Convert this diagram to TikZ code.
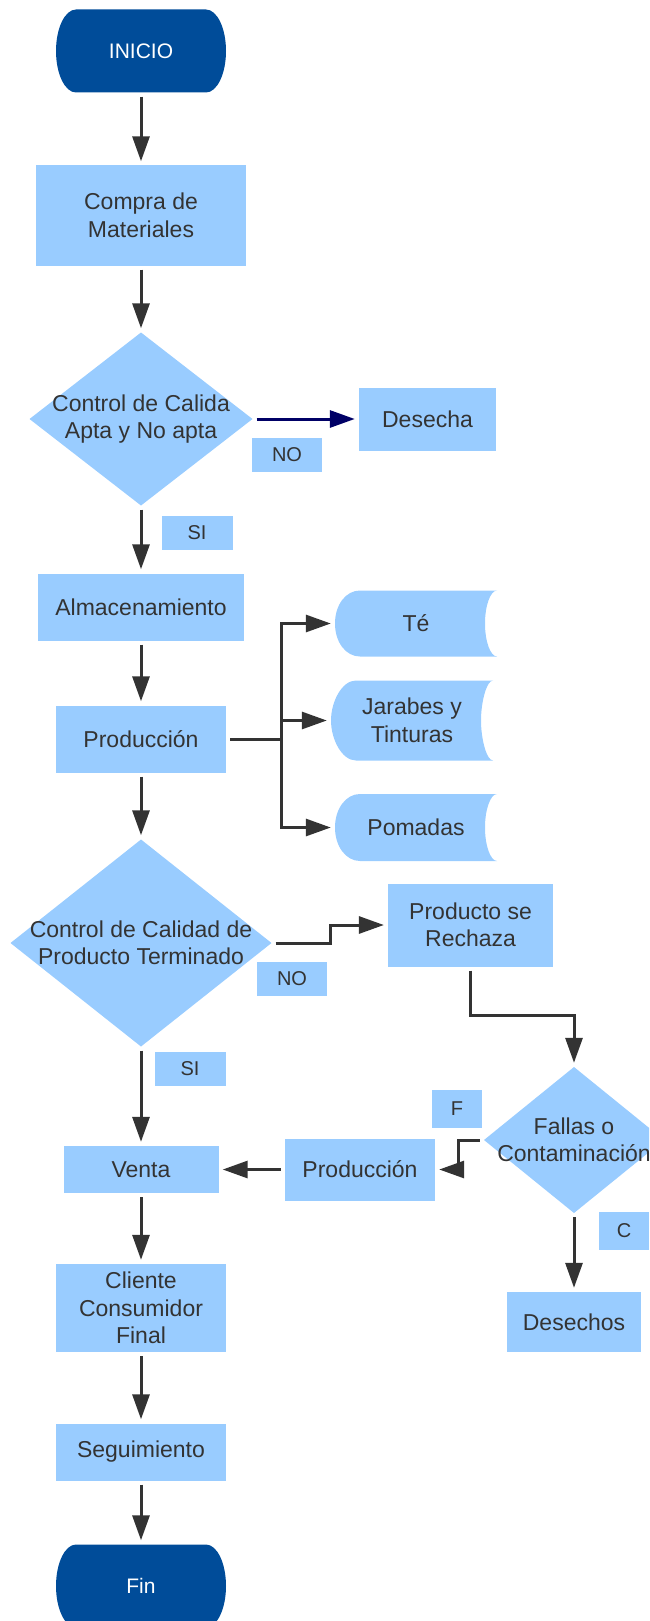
\documentclass[tikz,border=0pt]{standalone}
\usepackage{fontspec}
\setmainfont{Liberation Sans}
\usetikzlibrary{arrows.meta}

\definecolor{boxblue}{HTML}{99CCFF}
\definecolor{termblue}{HTML}{004C99}
\definecolor{linegray}{HTML}{333333}
\definecolor{navyline}{HTML}{000066}

\tikzset{
  proc/.style={rectangle, fill=boxblue, inner sep=0pt, align=center, text=linegray,
    font=\fontsize{23}{27.5}\selectfont},
  tag/.style={rectangle, fill=boxblue, inner sep=0pt, text=linegray,
    font=\fontsize{20}{24}\selectfont},
  term/.style={rectangle, inner sep=0pt, minimum width=170pt, minimum height=83pt,
    text=white, font=\fontsize{21}{25}\selectfont,
    path picture={\fill[termblue]
      ([xshift=20pt]path picture bounding box.north west) -- ([xshift=-20pt]path picture bounding box.north east)
      .. controls ([xshift=-9pt]path picture bounding box.north east) and ([yshift=23pt]path picture bounding box.east) .. (path picture bounding box.east)
      .. controls ([yshift=-23pt]path picture bounding box.east) and ([xshift=-9pt]path picture bounding box.south east) .. ([xshift=-20pt]path picture bounding box.south east)
      -- ([xshift=20pt]path picture bounding box.south west)
      .. controls ([xshift=9pt]path picture bounding box.south west) and ([yshift=-23pt]path picture bounding box.west) .. (path picture bounding box.west)
      .. controls ([yshift=23pt]path picture bounding box.west) and ([xshift=9pt]path picture bounding box.north west) .. cycle;}},
  decision/.style={rectangle, inner sep=0pt, align=center, text=linegray,
    font=\fontsize{23}{27.5}\selectfont,
    path picture={\fill[boxblue] (path picture bounding box.north) -- (path picture bounding box.east)
      -- (path picture bounding box.south) -- (path picture bounding box.west) -- cycle;}},
  stored/.style={rectangle, inner sep=0pt, align=center, text=linegray,
    minimum width=162pt, font=\fontsize{23}{27.5}\selectfont,
    path picture={\fill[boxblue]
      ([xshift=25pt]path picture bounding box.north west) -- (path picture bounding box.north east)
      .. controls ([xshift=-6.6pt]path picture bounding box.north east) and ([xshift=-12pt,yshift=18pt]path picture bounding box.east) .. ([xshift=-12pt]path picture bounding box.east)
      .. controls ([xshift=-12pt,yshift=-18pt]path picture bounding box.east) and ([xshift=-6.6pt]path picture bounding box.south east) .. (path picture bounding box.south east)
      -- ([xshift=25pt]path picture bounding box.south west)
      .. controls ([xshift=11pt]path picture bounding box.south west) and ([yshift=-19pt]path picture bounding box.west) .. (path picture bounding box.west)
      .. controls ([yshift=19pt]path picture bounding box.west) and ([xshift=11pt]path picture bounding box.north west) .. cycle;}},
  flow/.style={draw=linegray, line width=3pt, -{Triangle[length=25pt,width=17pt]},
    shorten <=4pt, shorten >=4pt},
  branch/.style={draw=linegray, line width=3pt, -{Triangle[length=25pt,width=17pt]},
    shorten >=4pt},
}

\begin{document}
\begin{tikzpicture}[x=1pt,y=-1pt]
\useasboundingbox (0,0) rectangle (649,1621);
\clip (0,0) rectangle (649,1621);

% Terminal
\node (inicio) at (141,51) [term] {INICIO};
% Process
\node (compra) at (141,215.5) [proc, minimum width=210pt, minimum height=100pt] {Compra de\\Materiales};
% Decision
\node (control1) at (141,419) [decision, minimum width=223pt, minimum height=173pt] {Control de Calida\\Apta y No apta};
\node (desecha) at (427.5,419) [proc, minimum width=137pt, minimum height=63pt] {Desecha};
% Text Node
\node (no1) at (287,455) [tag, minimum width=70pt, minimum height=34pt] {NO};
\node (si1) at (197,533) [tag, minimum width=71pt, minimum height=34pt] {SI};
% Process
\node (almacen) at (141,607) [proc, minimum width=206pt, minimum height=67pt] {Almacenamiento};
\node (prod1) at (141,739) [proc, minimum width=170pt, minimum height=67pt] {Producción};
% Stored data
\node (te) at (416,623.5) [stored, minimum height=66pt] {Té};
\node (jarabes) at (412,720.5) [stored, minimum height=80pt] {Jarabes y\\Tinturas};
\node (pomadas) at (416,827.5) [stored, minimum height=67pt] {Pomadas};
% Decision
\node (control2) at (141,943) [decision, minimum width=261pt, minimum height=207pt] {Control de Calidad de\\Producto Terminado};
\node (rechaza) at (470.6,925) [proc, minimum width=165pt, minimum height=83pt] {Producto se\\Rechaza};
% Text Node
\node (no2) at (292,979) [tag, minimum width=70pt, minimum height=34pt] {NO};
\node (si2) at (190,1069) [tag, minimum width=71pt, minimum height=34pt] {SI};
% Process
\node (venta) at (141,1169.5) [proc, minimum width=155pt, minimum height=47pt] {Venta};
\node (prod2) at (360,1169.5) [proc, minimum width=150pt, minimum height=62pt] {Producción};
% Decision
\node (fallas) at (574,1140) [decision, minimum width=180pt, minimum height=146pt] {Fallas o\\Contaminación};
% Text Node
\node (flab) at (457,1109) [tag, minimum width=50pt, minimum height=38pt] {F};
\node (clab) at (624,1231) [tag, minimum width=50pt, minimum height=38pt] {C};
% Process
\node (desechos) at (574,1322) [proc, minimum width=134pt, minimum height=60pt] {Desechos};
\node (cliente) at (141,1308) [proc, minimum width=170pt, minimum height=88pt] {Cliente\\Consumidor\\Final};
\node (seguim) at (141,1452) [proc, minimum width=170pt, minimum height=57pt] {Seguimiento};
% Terminal
\node (fin) at (141,1586) [term] {Fin};

\coordinate (split) at (281.5,739);

%Straight Lines
\draw [flow] (inicio) -- (compra);
\draw [flow] (compra) -- (control1);
\draw [flow, draw=navyline] (control1.east) -- (desecha.west);
\draw [flow] (control1) -- (almacen);
\draw [flow] (almacen) -- (prod1);
\draw [flow] (prod1) -- (control2);
\draw [flow] (prod1.east) -- (split) |- (jarabes.west);
\draw [branch] (split) |- (te.west);
\draw [branch] (split) |- (pomadas.west);
\draw [flow] (control2.east) -- ++(59,0) |- (rechaza.west);
\draw [flow] (rechaza.south) -- ++(0,49) -| (fallas.north);
\draw [flow] (fallas.west) -- ++(-25,0) |- (prod2.east);
\draw [flow] (prod2.west) -- (venta.east);
\draw [flow] (fallas.south) -- (desechos.north);
\draw [flow] (control2.south) -- (venta.north);
\draw [flow] (venta) -- (cliente);
\draw [flow] (cliente) -- (seguim);
\draw [flow] (seguim) -- (fin);

\end{tikzpicture}
\end{document}
